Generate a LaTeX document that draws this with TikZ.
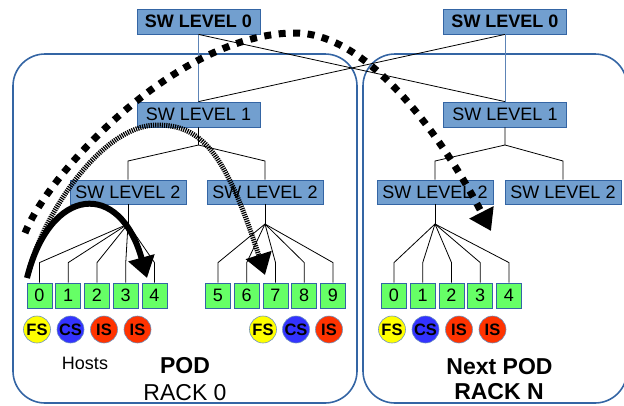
\documentclass[tikz,border=0pt]{standalone}
\usepackage{fontspec}
\setmainfont{Liberation Sans}
\usetikzlibrary{arrows.meta}
\definecolor{swfill}{HTML}{729FCF}
\definecolor{swdraw}{HTML}{3465A4}
\definecolor{hostfill}{HTML}{66FF66}
\definecolor{fsfill}{HTML}{FFFF00}
\definecolor{csfill}{HTML}{3333FF}
\definecolor{isfill}{HTML}{FF3300}
\begin{document}
\begin{tikzpicture}[x=1pt,y=-1pt,
  swbox/.style={draw=swdraw, fill=swfill, line width=0.8pt, minimum width=123pt, minimum height=25pt, inner sep=0pt, font=\fontsize{18}{20}\selectfont},
  swboldbox/.style={swbox, font=\bfseries\fontsize{18}{20}\selectfont},
  swtwobox/.style={swbox, minimum width=116pt, minimum height=24pt},
  hostbox/.style={draw=swdraw, fill=hostfill, line width=0.8pt, minimum size=25pt, inner sep=0pt, font=\fontsize{18}{20}\selectfont},
  role/.style={circle, draw=swdraw!70, line width=0.6pt, minimum size=27pt, inner sep=0pt, font=\bfseries\fontsize{16.5}{17}\selectfont},
  fsrole/.style={role, fill=fsfill},
  csrole/.style={role, fill=csfill},
  isrole/.style={role, fill=isfill},
  pod/.style={draw=swdraw, line width=1.6pt, rounded corners=32pt},
  link/.style={draw=black, line width=0.8pt},
  uplink/.style={draw=swdraw!80, line width=0.8pt},
  bigtext/.style={font=\fontsize{23}{25}\selectfont, inner sep=0pt},
  bigbold/.style={font=\bfseries\fontsize{23}{25}\selectfont, inner sep=0pt},
  solidarrow/.style={line width=6pt, -{Triangle[length=21pt,width=26pt]}},
  hatcharrow/.style={line width=5pt, dash pattern=on 1.2pt off 1pt, -{Triangle[length=21pt,width=26pt]}},
  dotarrow/.style={line width=7pt, dash pattern=on 7pt off 7.5pt, -{Triangle[length=21pt,width=26pt]}},
]
\useasboundingbox (0,0) rectangle (624,405);
\clip (0,0) rectangle (624,405);

% pods
\draw[pod] (13,54) rectangle (357,403);
\draw[pod] (363,54) rectangle (627,403);

% switches
\node[swboldbox] (s0a) at (198.5,21.5) {SW LEVEL 0};
\node[swboldbox] (s0b) at (505,21.5) {SW LEVEL 0};
\node[swbox] (s1a) at (198.5,114.5) {SW LEVEL 1};
\node[swbox] (s1b) at (505,114.5) {SW LEVEL 1};
\node[swtwobox] (s2a) at (128,192) {SW LEVEL 2};
\node[swtwobox] (s2b) at (265,192) {SW LEVEL 2};
\node[swtwobox] (s2c) at (435,192) {SW LEVEL 2};
\node[swtwobox] (s2d) at (563,192) {SW LEVEL 2};

% level 0 - level 1
\draw[uplink] (s0a.south) -- (s1a.north);
\draw[uplink] (s0b.south) -- (s1b.north);
\draw[link] (s0a.south) -- (s1b.north);
\draw[link] (s0b.south) -- (s1a.north);

% level 1 - level 2
\coordinate (j1a) at (198.5,145);
\coordinate (j1b) at (505,145);
\draw[link] (s1a.south) -- (j1a) -- (128,161) -- (s2a.north);
\draw[link] (j1a) -- (265,161) -- (s2b.north);
\draw[link] (s1b.south) -- (j1b) -- (435,161) -- (s2c.north);
\draw[link] (j1b) -- (563,161) -- (s2d.north);

% level 2 junctions
\coordinate (ja) at (128,224);
\coordinate (jb) at (265,224);
\coordinate (jc) at (435,224);
\draw[link] (s2a.south) -- (ja);
\draw[link] (s2b.south) -- (jb);
\draw[link] (s2c.south) -- (jc);

% hosts
\foreach \i/\x in {0/39.5,1/68.25,2/97,3/125.75,4/154.5} {
  \node[hostbox] (ha\i) at (\x,295.5) {\i};
  \draw[link] (ha\i.north) -- ++(0,-20) -- (ja);
}
\foreach \i/\x in {5/218,6/246.75,7/275.5,8/304.25,9/333} {
  \node[hostbox] (hb\i) at (\x,295.5) {\i};
  \draw[link] (hb\i.north) -- ++(0,-20) -- (jb);
}
\foreach \i/\x in {0/394,1/422.75,2/451.5,3/480.25,4/509} {
  \node[hostbox] (hc\i) at (\x,295.5) {\i};
  \draw[link] (hc\i.north) -- ++(0,-20) -- (jc);
}

% roles
\node[fsrole] (ra1) at (37,329.5) {FS};
\node[csrole] (ra2) at (70.5,329.5) {CS};
\node[isrole] (ra3) at (104,329.5) {IS};
\node[isrole] (ra4) at (137.5,329.5) {IS};
\node[fsrole] (rb1) at (263,329.5) {FS};
\node[csrole] (rb2) at (296,329.5) {CS};
\node[isrole] (rb3) at (329,329.5) {IS};
\node[fsrole] (rc1) at (392,329.5) {FS};
\node[csrole] (rc2) at (425.5,329.5) {CS};
\node[isrole] (rc3) at (459,329.5) {IS};
\node[isrole] (rc4) at (492.5,329.5) {IS};

% labels
\node[font=\fontsize{18}{20}\selectfont, inner sep=0pt] (hostslbl) at (85,363.5) {Hosts};
\node[bigbold] (podlbl) at (185,366) {POD};
\node[bigtext] (racklbl) at (185,392.5) {RACK 0};
\node[bigbold] (nextlbl) at (499.5,366.5) {Next POD};
\node[bigbold] (racknlbl) at (499,392) {RACK N};

% arrows
\coordinate (sa0) at (27,278);
\coordinate (sa1) at (147,278);
\draw[solidarrow] (sa0) .. controls (50,185) and (120,180) .. (sa1);

\coordinate (ha0) at (28,275);
\coordinate (hapex) at (157,125);
\coordinate (ha1) at (265,275);
\draw[hatcharrow] (ha0) .. controls (40,220) and (100,125) .. (hapex) .. controls (200,125) and (225,150) .. (ha1);

\coordinate (da0) at (25,233);
\coordinate (dapex) at (295,33);
\coordinate (da1) at (491,231);
\draw[dotarrow] (da0) .. controls (50,170) and (180,33) .. (dapex) .. controls (375,33) and (452,155) .. (da1);
\end{tikzpicture}
\end{document}
